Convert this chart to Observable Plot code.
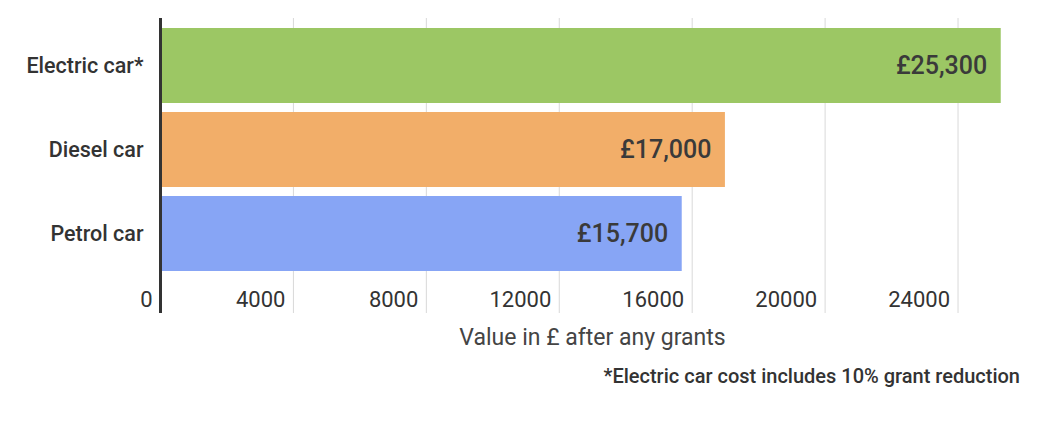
<!DOCTYPE html>
<html>
<head>
<meta charset="utf-8">
<script src="https://cdn.jsdelivr.net/npm/d3@7"></script>
<script src="https://cdn.jsdelivr.net/npm/@observablehq/plot@0.6"></script>
<style>
  html, body { margin: 0; padding: 0; background: #fff; }
  #wrap { position: relative; width: 1054px; height: 421px; font-family: Roboto, sans-serif; }
  #note { position: absolute; right: 34px; top: 364px; font-size: 20px; color: #333; font-weight: 500; }
</style>
</head>
<body>
<div id="wrap">
  <div id="chart"></div>
  <div id="note"></div>
</div>
<script>
const categories = ["Electric car*", "Diesel car", "Petrol car"];
const values = [25300, 17000, 15700];
const valueLabels = ["£25,300", "£17,000", "£15,700"];
const colors = ["#9cc764", "#f2ae69", "#87a5f5"];
const xTicks = [0, 4000, 8000, 12000, 16000, 20000, 24000];
const xTitle = "Value in £ after any grants";
const footnote = "*Electric car cost includes 10% grant reduction";

const data = categories.map((c, i) => ({cat: c, value: values[i], label: valueLabels[i], color: colors[i]}));

const chart = Plot.plot({
  width: 1054,
  height: 360,
  marginTop: 18,
  marginBottom: 47,
  marginLeft: 160,
  marginRight: 30,
  style: {fontFamily: "Roboto, sans-serif", color: "#333", background: "#fff"},
  x: {domain: [0, 26000]},
  y: {domain: categories, range: [22.5, 276.5], padding: 0.106, paddingOuter: 0.053},
  marks: [
    Plot.gridX(xTicks.slice(1), {stroke: "#d9d9d9", strokeOpacity: 1, strokeWidth: 1}),
    Plot.barX(data, {y: "cat", x: "value", fill: "color"}),
    Plot.ruleX([0], {stroke: "#333", strokeWidth: 3}),
    Plot.text(data, {y: "cat", x: "value", text: "label", textAnchor: "end", dx: -14, fontSize: 25, fontWeight: 500, fill: "#3a3a3a"}),
    Plot.axisY({tickSize: 0, tickPadding: 17, fontSize: 21.5, fontWeight: 500, fill: "#333", label: null}),
    Plot.axisX(xTicks, {anchor: "bottom", tickSize: 0, dy: -31, dx: -8, textAnchor: "end", fontSize: 22, fill: "#333", label: null, tickFormat: d => String(d)}),
    Plot.text([xTitle], {frameAnchor: "bottom", dy: 31, fontSize: 23, fill: "#444"})
  ]
});
document.getElementById("chart").appendChild(chart);
document.getElementById("note").textContent = footnote;
</script>
</body>
</html>
